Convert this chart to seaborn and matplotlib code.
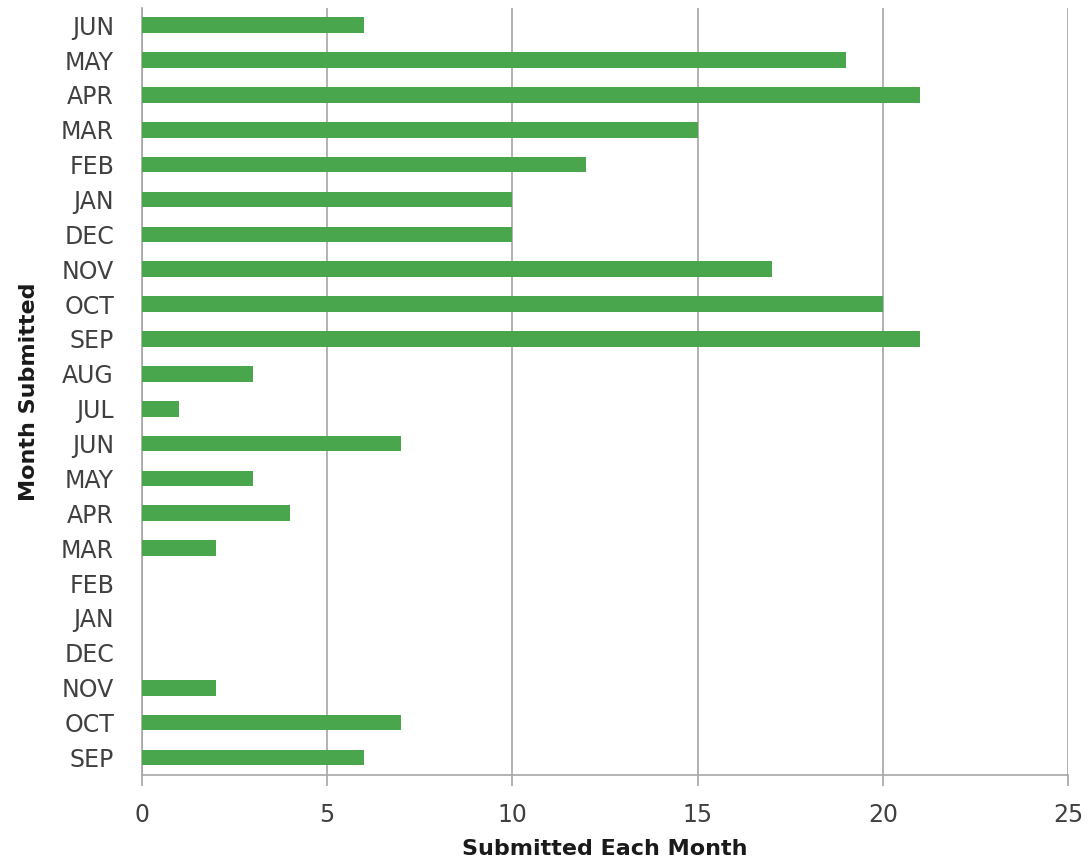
import matplotlib
matplotlib.use("Agg")
import matplotlib.pyplot as plt
import seaborn as sns
import pandas as pd

# Months listed top to bottom (most recent first), spanning two academic years
months = ["JUN", "MAY", "APR", "MAR", "FEB", "JAN", "DEC", "NOV", "OCT", "SEP",
          "AUG", "JUL", "JUN", "MAY", "APR", "MAR", "FEB", "JAN", "DEC", "NOV", "OCT", "SEP"]
submitted = [6, 19, 21, 15, 12, 10, 10, 17, 20, 21,
             3, 1, 7, 3, 4, 2, 0, 0, 0, 2, 7, 6]
x_ticks = [0, 5, 10, 15, 20, 25]

# Unique keys so repeated month names get their own rows
keys = [f"{m}_{i}" for i, m in enumerate(months)]
df = pd.DataFrame({"key": keys, "month": months, "count": submitted})

sns.set_theme(style="white")
plt.rcParams["font.family"] = ["DejaVu Sans"]

fig = plt.figure(figsize=(10.91, 8.6), dpi=100)
ax = fig.add_axes([0.130, 0.099, 0.849, 0.892])

sns.barplot(data=df, y="key", x="count", order=keys, orient="h",
            color="#4aa64c", saturation=1, width=0.45, linewidth=0,
            ax=ax, zorder=3)

ax.set_xlim(0, 25)
ax.set_ylim(len(keys) - 0.5, -0.5)
ax.set_xticks(x_ticks)
ax.set_xticklabels([str(t) for t in x_ticks], fontsize=17, color="#404040")
ax.set_yticks(range(len(keys)))
ax.set_yticklabels(months, fontsize=17, color="#404040")

ax.grid(axis="x", color="#a6a6a6", linewidth=1.2, zorder=0)
ax.grid(axis="y", visible=False)
for side in ["top", "right"]:
    ax.spines[side].set_visible(False)
ax.spines["left"].set_color("#a6a6a6")
ax.spines["left"].set_linewidth(1.2)
ax.spines["bottom"].set_color("#a6a6a6")
ax.spines["bottom"].set_linewidth(1.2)
ax.tick_params(axis="x", length=8, width=1.2, color="#a6a6a6", pad=12, bottom=True)
ax.tick_params(axis="y", length=0, pad=20)

ax.set_xlabel("Submitted Each Month", fontsize=16, fontweight="bold", color="#1a1a1a", labelpad=9)
ax.set_ylabel("Month Submitted", fontsize=16, fontweight="bold", color="#1a1a1a", labelpad=16)

fig.savefig("out.png", dpi=100, facecolor="white")
